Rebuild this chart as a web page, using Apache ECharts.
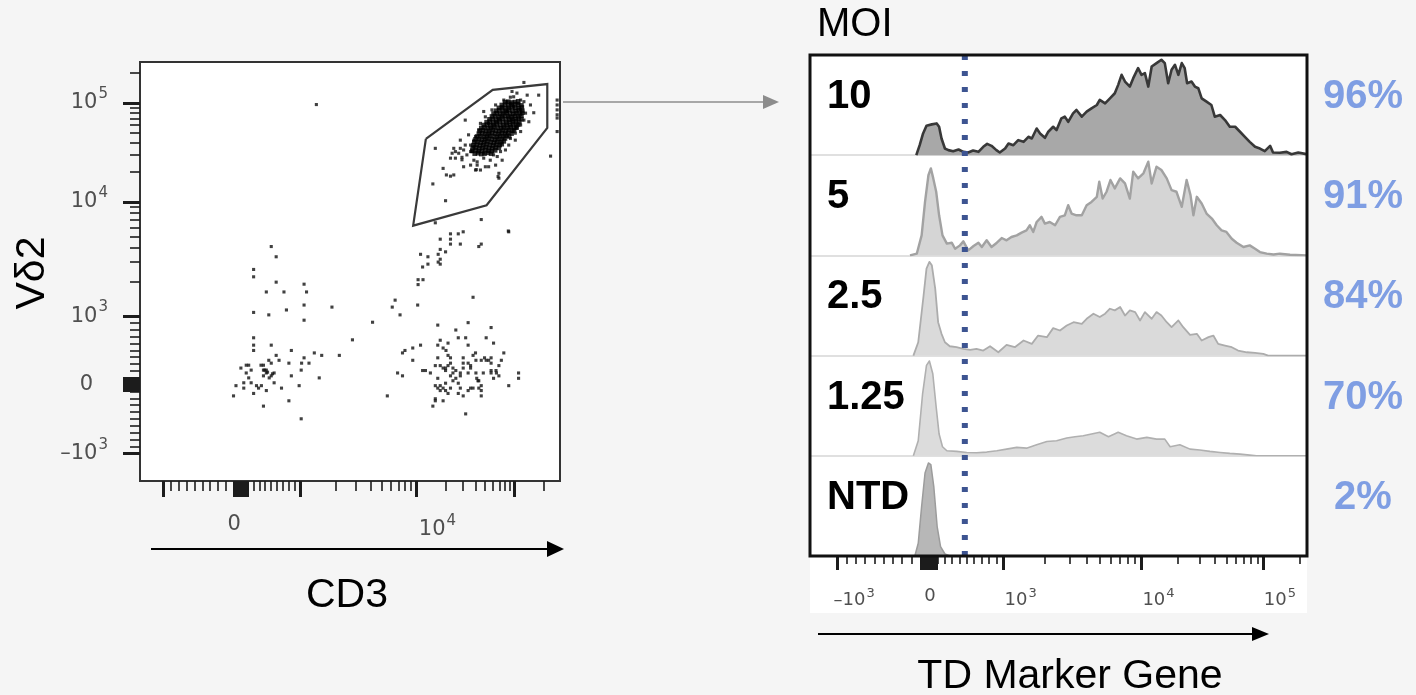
<!DOCTYPE html>
<html>
<head>
<meta charset="utf-8">
<script src="https://cdn.jsdelivr.net/npm/echarts@6/dist/echarts.min.js"></script>
<style>
  html, body { margin: 0; padding: 0; background: #f5f5f5; }
  #chart { width: 1416px; height: 695px; }
</style>
</head>
<body>
<div id="chart"></div>
<script>
// ---------------------------------------------------------------
// Display scale: logicle axes expressed in channel units (0–1024)
// ---------------------------------------------------------------
const CHANNELS = 1024;
const cd3Decades = { neg: 56, zero: 248, d3: 391, d4: 674, d5: 913 };
const vd2Decades = { neg: 67, zero: 236, d3: 403, d4: 682, d5: 924 };
const tdDecades  = { neg: 56, zero: 247, d3: 399, d4: 683, d5: 933 };

// tick labels on each axis (fluorescence values)
const cd3TickLabels = [0, 10000];
const vd2TickLabels = [-1000, 0, 1000, 10000, 100000];
const tdTickLabels  = [-1000, 0, 1000, 10000, 100000];

// ---------------------------------------------------------------
// Left panel: CD3 vs Vδ2 events (channel units)
// ---------------------------------------------------------------
const lowerLeftEvents = [
  [320,573],[332,548],[277,517],[277,499],[332,486],[400,481],[308,462],[351,462],[406,462],
  [400,430],[357,418],[277,412],[314,406],[468,425],[400,393],[567,388],[518,345],[277,350],
  [277,332],[320,332],[277,319],[369,319],[425,313],[443,307],[486,307],[332,307],[400,301],
  [314,295],[339,295],[320,288],[363,288],[394,288],[412,288],[259,283],[265,283],[295,283],
  [301,283],[246,276],[271,271],[301,271],[308,271],[393,271],[259,264],[308,264],[327,264],
  [301,257],[369,257],[320,257],[315,252],[265,252],[437,252],[253,240],[271,240],[327,240],
  [284,233],[296,233],[234,233],[388,233],[253,227],[289,227],[345,227],[308,221],[277,214],
  [228,208],[363,196],[301,183],[393,152],[304,271],[311,266],[323,262]
];
const lowerRightEvents = [
  [812,449],[622,442],[615,425],[677,430],[634,406],[726,381],[800,387],[856,375],[770,369],
  [776,350],[794,350],[844,350],[732,344],[751,337],[862,337],[684,332],[665,325],[726,332],
  [800,332],[739,325],[646,319],[640,313],[746,319],[887,313],[818,313],[812,307],[751,307],
  [726,301],[757,301],[788,301],[819,295],[832,295],[844,295],[850,295],[856,301],[881,295],
  [665,295],[757,288],[788,288],[800,288],[856,288],[875,282],[720,282],[732,282],[739,276],
  [763,276],[788,276],[806,282],[689,270],[696,270],[745,270],[770,270],[856,270],[868,270],
  [708,264],[781,264],[800,264],[819,264],[837,264],[869,264],[923,264],[628,264],[640,257],
  [781,257],[875,257],[726,251],[770,251],[821,251],[862,251],[923,251],[763,245],[824,245],
  [745,239],[776,239],[720,233],[732,233],[832,233],[899,233],[739,227],[757,227],[806,227],
  [812,227],[826,227],[726,227],[732,221],[751,214],[776,214],[800,221],[832,221],[603,208],
  [788,208],[832,208],[720,201],[720,196],[739,196],[714,183],[794,164],
  [751,282],[745,276],[763,264],[806,276],[826,245],[856,264],[745,221],[781,227],[840,301],[757,257]
];
const transitionEvents = [
  [788,609],[776,604],[757,604],[757,591],[732,591],[757,579],[781,579],[832,579],[826,573],
  [899,609],[732,566],[745,560],[727,554],[684,554],[702,548],[732,542],[727,535],[732,530],
  [702,530],[689,523],[678,492],[690,492],[678,480],[720,631],[832,639],[898,611],[714,726],
  [745,685],[430,920]
];
const gatedSparseEvents = [
  [793,882],[720,813],[781,833],[801,846],[769,805],[757,789],[769,789],[739,764],[789,768],
  [822,772],[830,760],[818,760],[850,768],[757,745],[875,752],[875,740],[785,785],[806,805],
  [838,789],[814,817],[936,974],[972,943],[944,943],[919,948],[903,938],[928,931],[895,927],
  [960,900],[948,878],[928,854],[915,833],[765,748],[747,748],[873,744],[820,761],
  [883,913],[895,903],[911,915],[923,923],[928,908],[911,939],[903,923],[850,874],[826,858],
  [818,842],[806,821],[789,809],[781,813],[797,797],[814,784],[822,780],[854,784],[871,793],
  [891,809],[903,837],[915,850],[928,870],[907,882],[842,890],[838,903],[858,907],[867,919],
  [887,931],[940,899],[936,882],[919,862],[899,821],[879,805],[862,797],[838,801],[810,805],
  [793,821],[777,801],[814,833],[830,874],[785,791],[806,772],[842,768],[867,772],[883,784],
  [761,801],[765,813],[936,927],[952,919],[907,952],[899,890],
  [1017,931],[1017,919],[1017,907],[1017,895],[1017,887],[1017,854],[1001,794]
];
const gatedCoreEvents = [
  [816,800],[824,801],[832,799],[840,800],[848,802],[856,800],
  [810,807],[818,808],[826,806],[834,807],[842,809],[850,807],[858,806],[866,808],
  [811,814],[819,815],[827,813],[835,814],[843,816],[851,814],[859,813],[867,815],[875,814],
  [813,821],[821,822],[829,820],[837,821],[845,823],[853,821],[861,820],[869,822],[877,821],[882,823],
  [815,828],[823,829],[831,827],[839,828],[847,830],[855,828],[863,827],[871,829],[879,828],[887,830],
  [818,835],[826,836],[834,834],[842,835],[850,837],[858,835],[866,834],[874,836],[882,835],[890,837],
  [822,842],[830,843],[838,841],[846,842],[854,844],[862,842],[870,841],[878,843],[886,842],[894,844],[900,842],
  [826,849],[834,850],[842,848],[850,849],[858,851],[866,849],[874,848],[882,850],[890,849],[898,851],[906,849],
  [828,856],[836,857],[844,855],[852,856],[860,858],[868,856],[876,855],[884,857],[892,856],[900,858],[908,856],[912,857],
  [832,863],[840,864],[848,862],[856,863],[864,865],[872,863],[880,862],[888,864],[896,863],[904,865],[912,863],[918,864],
  [838,870],[846,871],[854,869],[862,870],[870,872],[878,870],[886,869],[894,871],[902,870],[910,872],[918,870],[922,871],
  [845,877],[853,878],[861,876],[869,877],[877,879],[885,877],[893,876],[901,878],[909,877],[917,879],[925,877],
  [852,884],[860,885],[868,883],[876,884],[884,886],[892,884],[900,883],[908,885],[916,884],[924,886],[930,884],
  [858,891],[866,892],[874,890],[882,891],[890,893],[898,891],[906,890],[914,892],[922,891],[930,893],
  [862,898],[870,899],[878,897],[886,898],[894,900],[902,898],[910,897],[918,899],[926,898],[932,900],
  [868,905],[876,906],[884,904],[892,905],[900,907],[908,905],[916,904],[924,906],[932,905],
  [875,912],[883,913],[891,911],[899,912],[907,914],[915,912],[923,911],[931,913],
  [882,919],[890,920],[898,918],[906,919],[914,921],[922,919],[930,918],
  [890,926],[898,927],[906,925],[914,926],[922,928]
];
// Vδ2+ CD3+ gate polygon (channel units)
const vd2GateVertices = [[697,836],[860,956],[993,970],[993,863],[845,674],[666,624],[697,836]];

// ---------------------------------------------------------------
// Right panel: TD marker histograms ([channel, % of mode])
// ---------------------------------------------------------------
const moiLabels = ['10', '5', '2.5', '1.25', 'NTD'];
const percentPositive = [96, 91, 84, 70, 2];
const markerGateChannel = 319;

const histMoi10 = [
  [219,0],[226,10.5],[233,22.8],[240,30.9],[251,32.3],[261,33.3],[266,29.8],[271,17.5],[278,7],
  [285,5.3],[295,4.2],[306,6],[316,3.5],[326,2.8],[336,4.9],[347,3.5],[357,8.8],[365,11.9],
  [374,9.8],[384,5.3],[391,2.8],[402,7],[409,12.3],[419,10.5],[429,15.8],[440,14],[450,19.3],
  [457,17.5],[467,28],[474,22.8],[484,18.2],[491,24.6],[501,29.8],[508,26.3],[518,38.6],
  [525,40.4],[532,35],[542,43.9],[549,47.4],[560,40.4],[570,45.6],[580,49.1],[591,52.6],
  [597,57.9],[608,54.4],[618,59.6],[628,64.9],[635,73.7],[642,84.2],[649,77.2],[659,71.9],
  [666,80.7],[676,91.2],[683,84.2],[690,86],[697,71.9],[704,93],[714,96.5],[724,100],
  [731,96.5],[738,75.4],[745,89.5],[752,94.7],[759,84.2],[766,96.5],[772,91.2],[777,75.4],
  [786,77.2],[793,71.9],[800,70.2],[807,59.6],[817,56.1],[827,52.6],[834,40.4],[845,42.1],
  [855,36.8],[865,29.8],[876,29.8],[886,24.6],[896,19.3],[906,14],[917,8.8],[927,7],[937,4.2],
  [948,9.8],[954,2.8],[968,2.5],[982,3.5],[992,1],[1006,2.8],[1020,1.4],[1024,1]
];
const histMoi5 = [
  [206,0],[220,1.8],[230,21],[237,56],[244,84],[249,91.2],[254,80.7],[260,66.7],[266,42],
  [273,21],[282,12.3],[292,13.3],[299,7],[309,10.5],[316,14.7],[326,5.3],[337,9.8],[347,13.3],
  [354,8.8],[364,15.8],[374,8.8],[385,13.3],[395,18.2],[405,15.8],[415,19.3],[426,21],
  [436,23.9],[446,26.3],[453,31.6],[460,24.6],[467,35],[477,40.4],[484,33.3],[494,35],
  [505,31.6],[515,40.4],[525,42],[532,52.6],[539,43.9],[549,42],[560,42],[570,52.6],[580,56],
  [591,61.4],[596,77.2],[603,59.6],[611,66.7],[619,79],[628,70.2],[639,80.7],[649,75.4],
  [659,59.6],[666,87.7],[676,80.7],[687,86],[697,98.2],[704,75.4],[714,93],[724,89.5],
  [735,80.7],[745,68.4],[755,66.7],[766,50.9],[776,79],[784,63.2],[790,42],[797,61.4],
  [807,54.4],[817,43.9],[828,38.6],[838,31.6],[848,26.3],[858,24.6],[869,17.5],[879,13.3],
  [893,8.8],[906,10.5],[917,7],[927,3.5],[941,1.8],[955,1],[968,1.8],[989,0.7],[1024,0]
];
const histMoi2_5 = [
  [213,0],[223,14],[234,63],[240,91.2],[246,98.2],[251,94.7],[258,70.2],[264,35],[271,22.8],
  [278,14],[288,9.8],[302,8.8],[316,7],[330,6],[343,7],[357,5.3],[371,9.8],[388,3.5],
  [405,11.2],[422,8.8],[440,15.8],[457,12.3],[470,21],[488,19.3],[501,28.8],[515,26.3],
  [529,31.6],[543,35],[560,33.3],[570,38.6],[584,43.9],[597,40.4],[608,43.9],[618,49.1],
  [628,47.4],[639,50.9],[649,42],[659,47.4],[670,45.6],[680,36.8],[690,45.6],[704,38.6],
  [714,45.6],[724,42],[735,35],[745,29.8],[759,36.8],[769,29.8],[783,21.8],[797,22.8],
  [807,15.8],[821,19.3],[831,21],[841,12.3],[855,10.5],[869,8.8],[882,5.3],[900,3.5],
  [917,2.8],[934,1.8],[944,0],[1024,0]
];
const histMoi1_25 = [
  [213,0],[223,15.8],[232,65],[240,94.7],[246,99.3],[253,86],[260,50.9],[266,22.8],[273,9.5],
  [282,5.3],[302,4.6],[323,3.5],[343,3.2],[364,3.9],[385,5.3],[405,7],[426,8.8],[446,8],
  [467,11.6],[488,15],[508,15.8],[529,18.6],[546,20],[563,21],[580,22.8],[597,24.6],[615,20],
  [635,24.6],[652,21],[673,17.5],[694,19.3],[714,17.5],[731,17.5],[742,9.5],[762,11.6],
  [783,7],[803,6],[824,4.6],[845,3.5],[865,2.5],[886,1.8],[906,0.7],[920,0],[1024,0]
];
const histNtd = [
  [216,0],[223,13.3],[230,52],[237,87],[244,97.5],[249,95.8],[255,73],[262,30.9],[269,9.8],
  [278,2.1],[288,0]
];

// ---------------------------------------------------------------
// Scale helpers
// ---------------------------------------------------------------
function toChannel(v, s) {
  if (v >= 1000) {
    const l = Math.log10(v);
    return l <= 4 ? s.d3 + (l - 3) * (s.d4 - s.d3) : s.d4 + (l - 4) * (s.d5 - s.d4);
  }
  if (v >= 0) return s.zero + (v / 1000) * (s.d3 - s.zero);
  return s.zero + (v / 1000) * (s.zero - s.neg);
}

const majorTickValues = [-1000, 0, 1000, 10000, 100000];
const nearZeroTickValues = [];
for (let k = 1; k <= 9; k++) nearZeroTickValues.push(-10 * k, 10 * k);
const minorTickValues = [];
for (let k = 1; k <= 9; k++) minorTickValues.push(-100 * k, 100 * k);
for (let k = 2; k <= 9; k++) minorTickValues.push(1000 * k, 10000 * k);
minorTickValues.push(200000);

function tickChannels(values, scale) {
  return values.map(v => toChannel(v, scale)).filter(c => c >= 0 && c <= CHANNELS);
}

function powerText(v) {
  if (v === 0) return '{n|0}{sp| }';
  const e = Math.round(Math.log10(Math.abs(v)));
  return '{n|' + (v < 0 ? '\u201310' : '10') + '}{e|' + e + '}';
}

// label anchors: "0" is centred on its tick, powers of ten start at their tick
function labelSpec(values, scale, shiftPx, axisPx) {
  const perPx = CHANNELS / axisPx;
  const map = {};
  const pos = values.map(v => {
    const c = toChannel(v, scale) + (v === 0 ? 0 : shiftPx * perPx);
    map[c.toFixed(3)] = powerText(v);
    return c;
  });
  return { pos, fmt: val => map[Number(val).toFixed(3)] || '' };
}

// ---------------------------------------------------------------
// Layout
// ---------------------------------------------------------------
const dot = { left: 140, top: 62, width: 420, height: 419 };
const hist = { left: 810, top: 55, width: 497, height: 501 };
const rowH = hist.height / 5;

const TICK_COLOR = '#1c1c1c';
const LABEL_COLOR = '#4f4f4f';
const tickFont = 'DejaVu Sans';
const textFont = "'Liberation Sans', Arial, sans-serif";

const richBig = {
  n: { fontFamily: tickFont, fontSize: 21, color: LABEL_COLOR },
  e: { fontFamily: tickFont, fontSize: 15, color: LABEL_COLOR, padding: [0, 0, 17, 1] },
  sp: { width: 15 }
};
const richSmall = {
  n: { fontFamily: tickFont, fontSize: 18, color: LABEL_COLOR },
  e: { fontFamily: tickFont, fontSize: 13, color: LABEL_COLOR, padding: [0, 0, 14, 1] },
  sp: { width: 0 }
};

const cd3Labels = labelSpec(cd3TickLabels, cd3Decades, 21, dot.width);
const tdLabels = labelSpec(tdTickLabels, tdDecades, 17, hist.width);
const vd2Labels = labelSpec(vd2TickLabels, vd2Decades, 0, dot.height);

function scaleAxis(dim, gridIndex, scale, major, labels, rich, margin, majorLen, minorLen) {
  const base = {
    gridIndex, type: 'value', min: 0, max: CHANNELS,
    position: dim === 'x' ? 'bottom' : 'left',
    axisLine: { show: false }, splitLine: { show: false }
  };
  return [
    Object.assign({}, base, {
      axisTick: { show: true, inside: false, length: majorLen,
        lineStyle: { color: TICK_COLOR, width: 3 },
        customValues: tickChannels(major, scale) },
      axisLabel: labels ? { show: true, margin, customValues: labels.pos,
        formatter: labels.fmt, rich, hideOverlap: false } : { show: false }
    }),
    Object.assign({}, base, {
      axisTick: { show: true, inside: false, length: minorLen,
        lineStyle: { color: TICK_COLOR, width: 1.6 },
        customValues: tickChannels(minorTickValues, scale) },
      axisLabel: { show: false }
    })
  ];
}

const majorWithZero = majorTickValues.concat(nearZeroTickValues);

const grids = [
  { left: dot.left, top: dot.top, width: dot.width, height: dot.height, show: true,
    backgroundColor: '#ffffff', borderColor: '#333333', borderWidth: 2 },
  { left: hist.left, top: hist.top, width: hist.width, height: hist.height, show: true,
    backgroundColor: '#ffffff', borderWidth: 0 }
];
for (let i = 0; i < 5; i++) {
  grids.push({ left: hist.left, top: hist.top + i * rowH, width: hist.width, height: rowH, show: false });
}
grids.forEach(g => { g.containLabel = false; g.outerBoundsMode = 'none'; });

// x axes: 0-1 dot plot (major/minor), 2-3 histogram scale (major/minor), 4-8 histogram rows
const xAxes = []
  .concat(scaleAxis('x', 0, cd3Decades, majorWithZero, cd3Labels, richBig, 33, 16, 10))
  .concat(scaleAxis('x', 1, tdDecades, majorWithZero, tdLabels, richSmall, 31, 14, 8));
// y axes: 0-1 dot plot (major/minor), 2 histogram frame, 3-7 histogram rows
const yAxes = []
  .concat(scaleAxis('y', 0, vd2Decades, majorWithZero, vd2Labels, richBig, 32, 17, 10));
yAxes[0].axisLabel.align = 'right';
yAxes.push({ gridIndex: 1, type: 'value', min: 0, max: 1, show: false });
const FRAME_X = 2, FRAME_Y = 2;

const rowData = [histMoi10, histMoi5, histMoi2_5, histMoi1_25, histNtd];
const rowStyles = [
  { line: '#383838', width: 2.6, fill: '#a8a8a8' },
  { line: '#a2a2a2', width: 2.4, fill: '#d5d5d5' },
  { line: '#acacac', width: 1.8, fill: '#dadada' },
  { line: '#b0b0b0', width: 1.6, fill: '#dcdcdc' },
  { line: '#9c9c9c', width: 1.5, fill: '#b7b7b7' }
];

const series = [];
rowData.forEach((d, i) => {
  xAxes.push({
    gridIndex: 2 + i, type: 'value', min: 0, max: CHANNELS, position: 'bottom',
    axisLine: { show: i < 4, lineStyle: { color: '#d6d6d6', width: 1.5 } },
    axisTick: { show: false }, axisLabel: { show: false }, splitLine: { show: false }
  });
  yAxes.push({ gridIndex: 2 + i, type: 'value', min: 0, max: 105, show: false });
  series.push({
    type: 'line', xAxisIndex: xAxes.length - 1, yAxisIndex: yAxes.length - 1,
    data: d, symbol: 'none', silent: true, z: 3,
    lineStyle: { color: rowStyles[i].line, width: rowStyles[i].width, join: 'round' },
    areaStyle: { color: rowStyles[i].fill, opacity: 1 }
  });
});

series.push({
  type: 'scatter', xAxisIndex: 0, yAxisIndex: 0, symbol: 'rect', symbolSize: 3.1,
  silent: true, itemStyle: { color: '#111111' },
  data: [].concat(lowerLeftEvents, lowerRightEvents, transitionEvents, gatedSparseEvents)
});
series.push({
  type: 'scatter', xAxisIndex: 0, yAxisIndex: 0, symbol: 'rect', symbolSize: 4.6,
  silent: true, itemStyle: { color: '#000000' }, data: gatedCoreEvents
});
series.push({
  type: 'line', xAxisIndex: 0, yAxisIndex: 0, data: vd2GateVertices, symbol: 'none',
  silent: true, z: 4, lineStyle: { color: '#3a3a3a', width: 2.2, join: 'miter' }
});
series.push({
  type: 'line', xAxisIndex: FRAME_X, yAxisIndex: FRAME_Y,
  data: [[markerGateChannel, 1], [markerGateChannel, 0]], symbol: 'none', silent: true, z: 8,
  lineStyle: { color: '#3d5491', width: 6, type: [5, 11], cap: 'butt' }
});

// ---------------------------------------------------------------
// Annotations: titles, MOI labels, percentages, arrows
// ---------------------------------------------------------------
const graphics = [];
function text(str, x, y, font, fill, align, extra) {
  graphics.push(Object.assign({
    type: 'text', x, y, silent: true, z: 20,
    style: { text: str, font, fill, textAlign: align || 'center', textVerticalAlign: 'middle' }
  }, extra || {}));
}
function arrow(x1, x2, y, color, lw, headLen, headHalf) {
  graphics.push({ type: 'line', silent: true, z: 20,
    shape: { x1, y1: y, x2: x2 - headLen + 1, y2: y }, style: { stroke: color, lineWidth: lw } });
  graphics.push({ type: 'polygon', silent: true, z: 20,
    shape: { points: [[x2 - headLen, y - headHalf], [x2, y], [x2 - headLen, y + headHalf]] },
    style: { fill: color } });
}

// white backing behind the histogram scale
graphics.push({ type: 'rect', silent: true, z: -1,
  shape: { x: hist.left, y: hist.top + hist.height, width: hist.width, height: 57 },
  style: { fill: '#ffffff' } });
// histogram frame
graphics.push({ type: 'rect', silent: true, z: 15,
  shape: { x: hist.left, y: hist.top, width: hist.width, height: hist.height },
  style: { fill: 'none', stroke: '#111111', lineWidth: 3 } });

text('V\u03b42', 33, dot.top + 211, '41px ' + textFont, '#000', 'center', { rotation: Math.PI / 2 });
text('CD3', dot.left + 207, 596, '41px ' + textFont, '#000');
arrow(dot.left + 11, dot.left + dot.width + 4, 549, '#000', 2, 17, 8);
arrow(dot.left + dot.width + 3, 779, 102, '#8c8c8c', 1.5, 16, 7);

text('MOI', hist.left + 7, 25, '40px ' + textFont, '#000', 'left');
text('TD Marker Gene', 1070, 677, '41px ' + textFont, '#000');
arrow(hist.left + 8, 1269, 634, '#000', 2, 17, 7);

moiLabels.forEach((lab, i) => {
  const cy = hist.top + i * rowH + 42;
  text(lab, hist.left + 17, cy, 'bold 40px ' + textFont, '#000', 'left');
  text(percentPositive[i] + '%', 1363, cy, 'bold 40px ' + textFont, '#7f9ee3', 'center');
});

const chart = echarts.init(document.getElementById('chart'));
chart.setOption({
  animation: false,
  backgroundColor: '#f5f5f5',
  grid: grids,
  xAxis: xAxes,
  yAxis: yAxes,
  series,
  graphic: graphics
});
</script>
</body>
</html>
